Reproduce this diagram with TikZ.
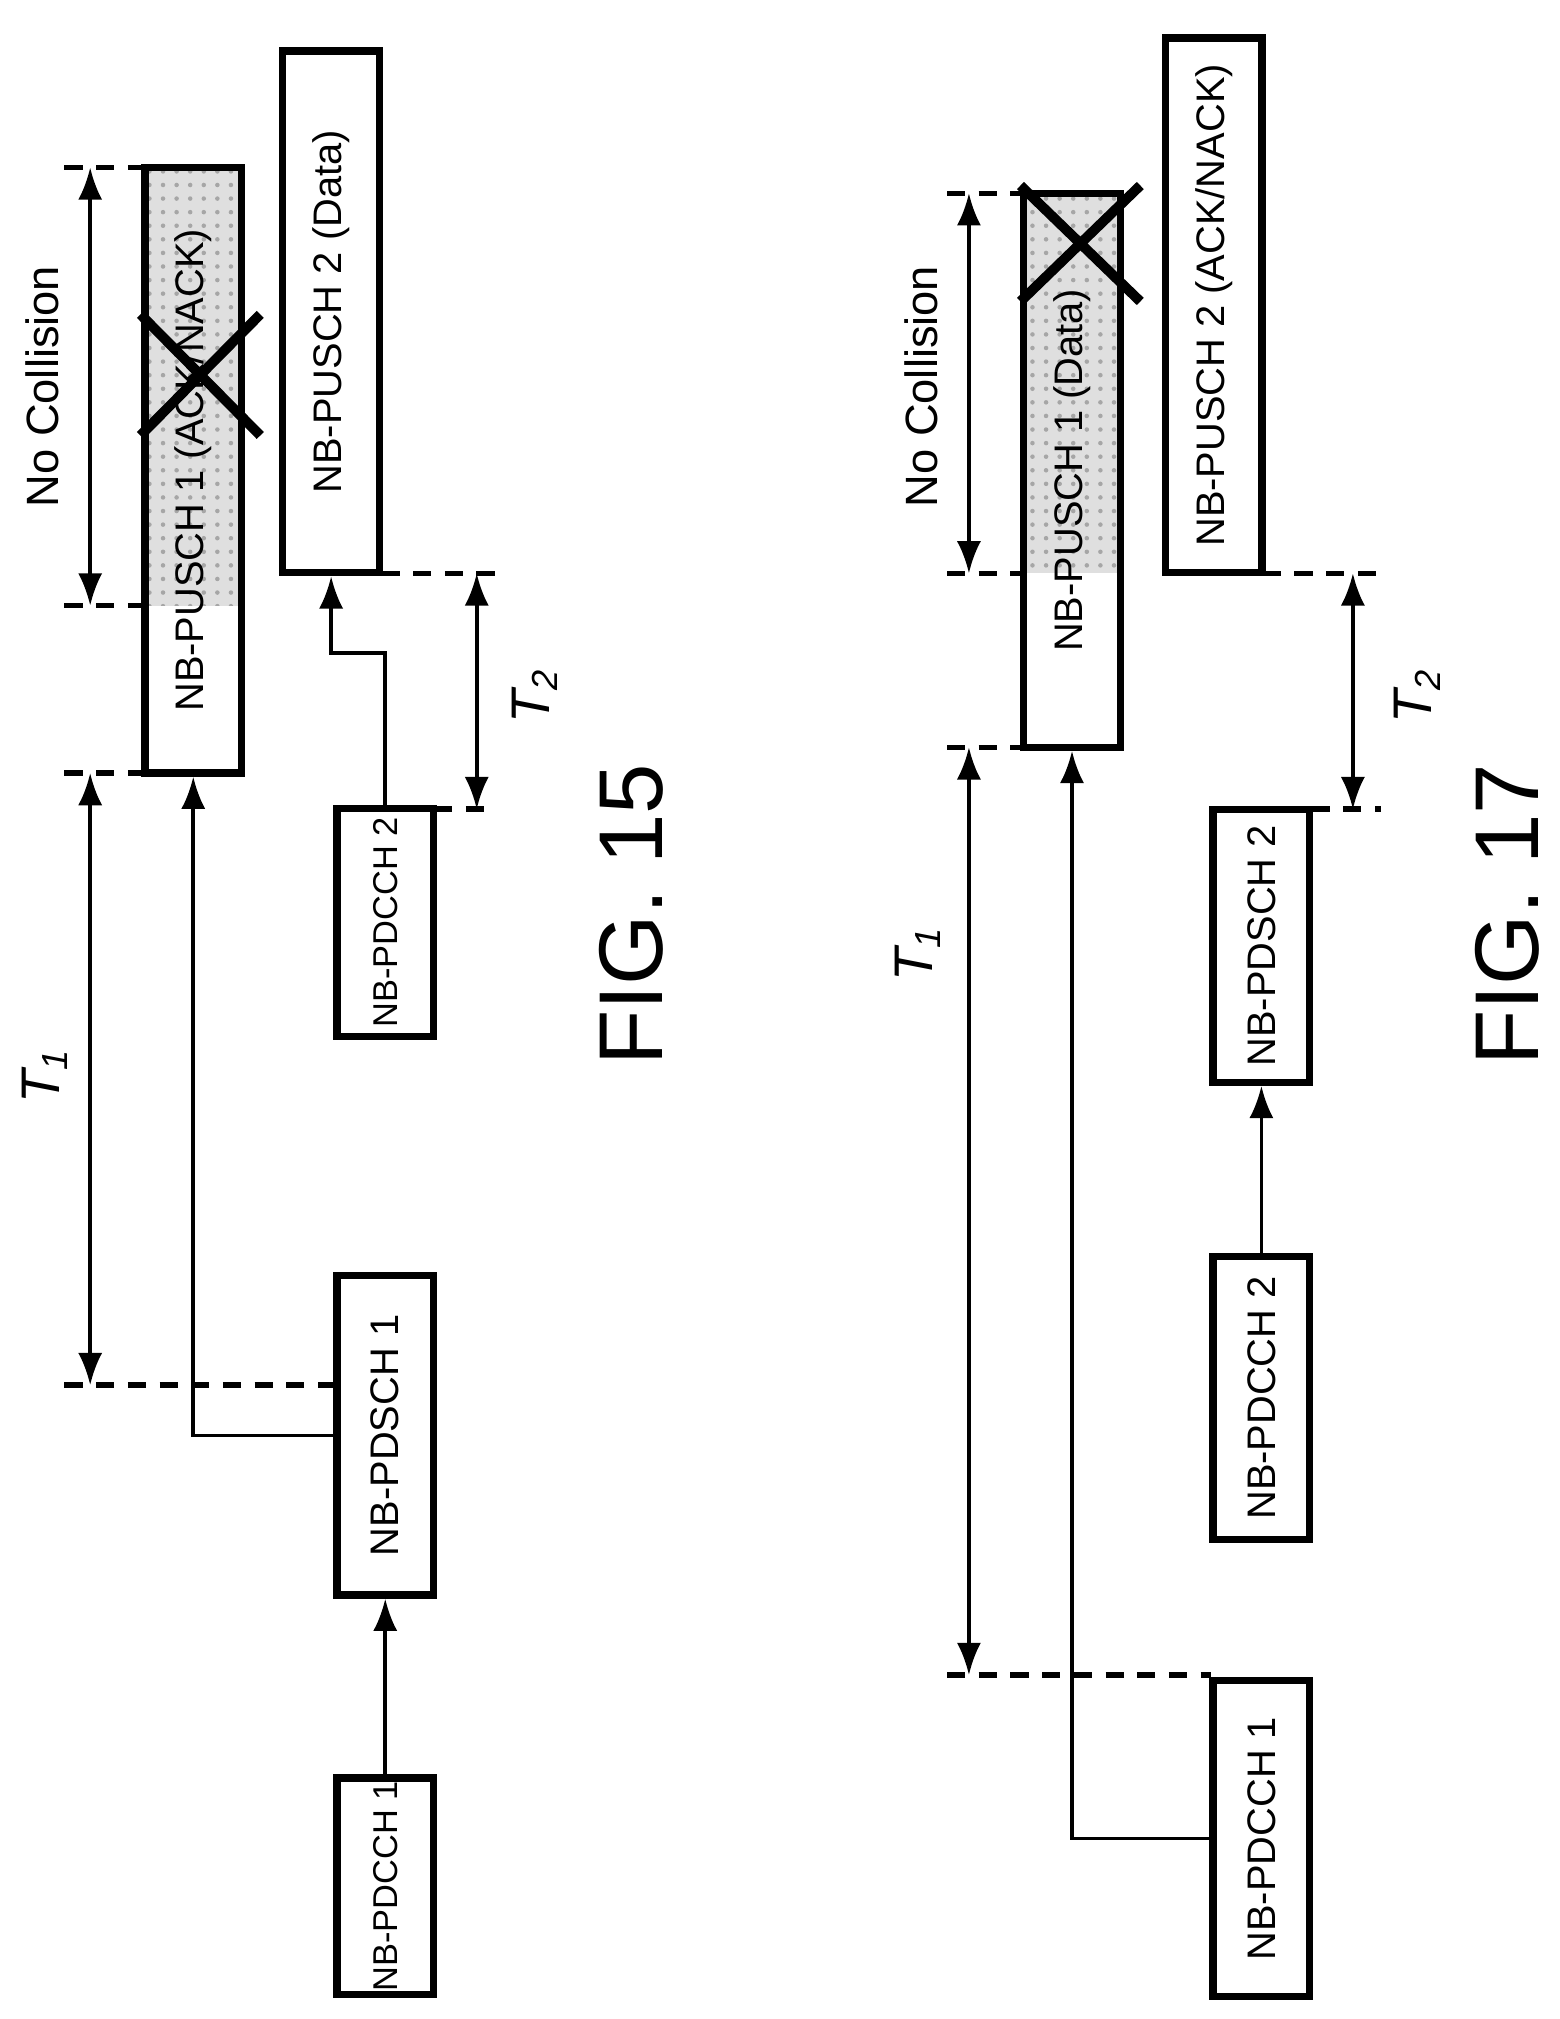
\documentclass[tikz,border=0pt]{standalone}
\usepackage{fontspec}
\setmainfont{Liberation Sans}
\usetikzlibrary{arrows.meta,patterns,positioning}

\begin{document}
\begin{tikzpicture}[x=0.1mm, y=-0.1mm, line width=1pt,
    every node/.style={font=\fontsize{8.8}{10}\selectfont},
    chan/.style={draw, line width=1.6pt, rotate=90, inner sep=0pt, minimum height=7.5mm},
    small/.style={font=\fontsize{7.6}{9}\selectfont},
    dashln/.style={dash pattern=on 4pt off 3pt, line width=1.2pt},
    span/.style={{Latex[length=2.5mm]}-{Latex[length=2.5mm]}, line width=0.8pt},
    arr/.style={-{Latex[length=2.5mm]}, line width=0.8pt},
    shade/.style={fill=gray!25, postaction={pattern=dots, pattern color=gray!70}},
    cross/.style={line width=2.2pt},
    figlbl/.style={rotate=90, font=\fontsize{20}{22}\selectfont},
    tlbl/.style={rotate=90, font=\fontsize{12}{14}\selectfont\itshape}]
    \useasboundingbox (0,0) rectangle (1210,1567);

    % FIG. 15
    \fill[shade] (112,130) rectangle (188,470);
    \node (pdcchA) [chan, small, minimum width=16.8mm] at (299,1464) {NB-PDCCH 1};
    \node (pdschA) [chan, minimum width=24.8mm] at (299,1114) {NB-PDSCH 1};
    \node (pdcchB) [chan, small, minimum width=17.7mm] at (299,716) {NB-PDCCH 2};
    \node (puschA) [chan, minimum width=47mm] at (150,365) {NB-PUSCH 1 (ACK/NACK)};
    \node (puschB) [chan, minimum width=40.5mm] at (257,242) {NB-PUSCH 2 (Data)};
    \draw[cross] (109,244) -- (202,338);
    \draw[cross] (109,338) -- (202,244);

    \draw [arr] (pdcchA) -- (pdschA);
    \draw [arr] (pdschA.north) -| (puschA.west);
    \draw [arr] (pdcchB.east) -- ++(0,-118) -| (puschB.west);

    \coordinate (t1a) at (70,600);
    \coordinate (t1b) at (70,1075);
    \coordinate (nca) at (70,130);
    \coordinate (ncb) at (70,470);
    \coordinate (t2a) at (370,445);
    \coordinate (t2b) at (370,628);
    \draw[dashln] (50,1075) -- (262,1075);
    \draw[dashln] (50,600) -- (112,600);
    \draw[dashln] (50,470) -- (112,470);
    \draw[dashln] (50,130) -- (112,130);
    \draw[dashln] (337,628) -- (385,628);
    \draw[dashln] (296,445) -- (385,445);
    \draw[span] (t1a) -- (t1b);
    \draw[span] (nca) -- (ncb);
    \draw[span] (t2a) -- (t2b);
    \node (nclblA) [rotate=90, font=\fontsize{10}{12}\selectfont] at (33,300) {No Collision};
    \node (t1lblA) [tlbl] at (35,835) {T\textsubscript{1}};
    \node (t2lblA) [tlbl] at (415,540) {T\textsubscript{2}};
    \node (figA) [figlbl] at (490,710) {FIG. 15};

    % FIG. 17
    \fill[shade] (795,150) rectangle (870,445);
    \node (pdcchC) [chan, minimum width=24.5mm] at (979,1427) {NB-PDCCH 1};
    \node (pdcchD) [chan, minimum width=22mm] at (979,1085) {NB-PDCCH 2};
    \node (pdschD) [chan, minimum width=21.2mm] at (979,734) {NB-PDSCH 2};
    \node (puschC) [chan, minimum width=43mm] at (832,365) {NB-PUSCH 1 (Data)};
    \node (puschD) [chan, minimum width=41.5mm] at (942,237) {NB-PUSCH 2 (ACK/NACK)};
    \draw[cross] (792,144) -- (885,234);
    \draw[cross] (792,234) -- (885,144);

    \draw [arr] (pdcchD) -- (pdschD);
    \draw [arr] (pdcchC.north) -| (puschC.west);

    \coordinate (t1c) at (752,580);
    \coordinate (t1d) at (752,1300);
    \coordinate (ncc) at (752,150);
    \coordinate (ncd) at (752,445);
    \coordinate (t2c) at (1050,445);
    \coordinate (t2d) at (1050,628);
    \draw[dashln] (735,1300) -- (940,1300);
    \draw[dashln] (735,580) -- (795,580);
    \draw[dashln] (735,445) -- (795,445);
    \draw[dashln] (735,150) -- (795,150);
    \draw[dashln] (1018,628) -- (1072,628);
    \draw[dashln] (980,445) -- (1072,445);
    \draw[span] (t1c) -- (t1d);
    \draw[span] (ncc) -- (ncd);
    \draw[span] (t2c) -- (t2d);
    \node (nclblC) [rotate=90, font=\fontsize{10}{12}\selectfont] at (715,300) {No Collision};
    \node (t1lblC) [tlbl] at (712,740) {T\textsubscript{1}};
    \node (t2lblC) [tlbl] at (1100,540) {T\textsubscript{2}};
    \node (figC) [figlbl] at (1170,710) {FIG. 17};
\end{tikzpicture}
\end{document}
